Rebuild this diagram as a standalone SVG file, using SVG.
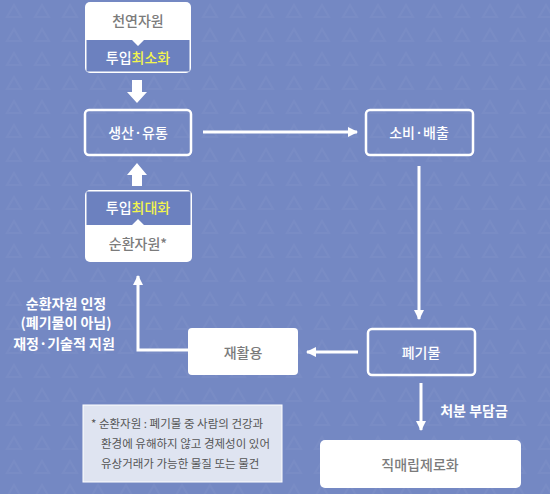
<svg xmlns="http://www.w3.org/2000/svg" width="550" height="494" viewBox="0 0 550 494">
<style>
text{font-family:"Noto Sans CJK KR","Noto Sans",sans-serif;text-anchor:middle;dominant-baseline:central}
.lbl{font-size:14px;font-weight:500}
.gray{fill:#7b7b7b}
.wt{fill:#ffffff}
.yl{fill:#f4f54c}
.side{font-size:14px;font-weight:700;fill:#ffffff}
.note{font-size:11.5px;fill:#555;text-anchor:start}
.outline{fill:none;stroke:#ffffff;stroke-width:2.5}
.line{stroke:#ffffff;stroke-width:3;fill:none}
</style>
<defs>
<pattern id="bgp" width="28" height="24" patternUnits="userSpaceOnUse">
<path d="M14 5 L21 17 L7 17 Z" fill="none" stroke="#ffffff" stroke-opacity="0.035" stroke-width="2"/>
</pattern>
<marker id="ah" viewBox="0 0 10 10" refX="9" refY="5" markerWidth="3.4" markerHeight="3.4" orient="auto" markerUnits="strokeWidth">
<path d="M0 0 L10 5 L0 10 Z" fill="#ffffff"/>
</marker>
</defs>
<rect width="550" height="494" fill="#7488c3"/>
<rect width="550" height="494" fill="url(#bgp)"/>

<g id="connectors">
<path d="M132 80 H142 V92 H147 L137 103 L127 92 H132 Z" fill="#ffffff"/>
<path d="M132 186 H142 V175 H147 L137 163 L127 175 H132 Z" fill="#ffffff"/>
<line class="line" x1="203" y1="132" x2="357" y2="132" marker-end="url(#ah)"/>
<line class="line" x1="419" y1="166" x2="419" y2="319" marker-end="url(#ah)"/>
<line class="line" x1="358" y1="352" x2="307" y2="352" marker-end="url(#ah)"/>
<polyline class="line" points="188,350 138,350 138,276" marker-end="url(#ah)"/>
<line class="line" x1="421" y1="383" x2="421" y2="430" marker-end="url(#ah)"/>
<text class="side" x="474" y="410">처분 부담금</text>
<text class="side" x="66" y="303">순환자원 인정</text>
<text class="side" x="66" y="322">(폐기물이 아님)</text>
<text class="side" x="64" y="343">재정·기술적 지원</text>
</g>

<g id="node-natural">
<rect x="85" y="2" width="106" height="71" rx="5" fill="#ffffff"/>
<path d="M86.5 40 H132 L138 46 L144 40 H189.5 V71.5 H86.5 Z" fill="#6c81bf"/>
<text class="lbl gray" x="138" y="20">천연자원</text>
<text class="lbl" x="138" y="57" font-weight="700"><tspan class="wt">투입</tspan><tspan class="yl">최소화</tspan></text>
</g>

<g id="node-production">
<rect class="outline" x="85" y="110" width="106" height="45" rx="4"/>
<text class="lbl wt" x="138" y="132" font-weight="700">생산·유통</text>
</g>

<g id="node-consumption">
<rect class="outline" x="366" y="110" width="107" height="45" rx="4"/>
<text class="lbl wt" x="419" y="132" font-weight="700">소비·배출</text>
</g>

<g id="node-input-max">
<rect x="85" y="190" width="107" height="72" rx="5" fill="#ffffff"/>
<path d="M86.5 191.5 H190.5 V225 H144 L138 219 L132 225 H86.5 Z" fill="#6c81bf"/>
<text class="lbl" x="138" y="207" font-weight="700"><tspan class="wt">투입</tspan><tspan class="yl">최대화</tspan></text>
<text class="lbl gray" x="138" y="243">순환자원*</text>
</g>

<g id="node-recycle">
<rect x="188" y="328" width="110" height="47" rx="4" fill="#ffffff"/>
<text class="lbl gray" x="243" y="352">재활용</text>
</g>

<g id="node-waste">
<rect class="outline" x="368" y="329" width="107" height="46" rx="4"/>
<text class="lbl wt" x="421" y="352" font-weight="700">폐기물</text>
</g>

<g id="node-landfill">
<rect x="320" y="440" width="201" height="48" rx="5" fill="#ffffff"/>
<text class="lbl gray" x="420" y="464">직매립제로화</text>
</g>

<g id="note">
<rect x="83" y="405" width="199" height="77" fill="#dfe4f1" stroke="#ffffff" stroke-width="1"/>
<text class="note" x="91" y="423">* 순환자원 : 폐기물 중 사람의 건강과</text>
<text class="note" x="101" y="443">환경에 유해하지 않고 경제성이 있어</text>
<text class="note" x="101" y="463">유상거래가 가능한 물질 또는 물건</text>
</g>
</svg>
